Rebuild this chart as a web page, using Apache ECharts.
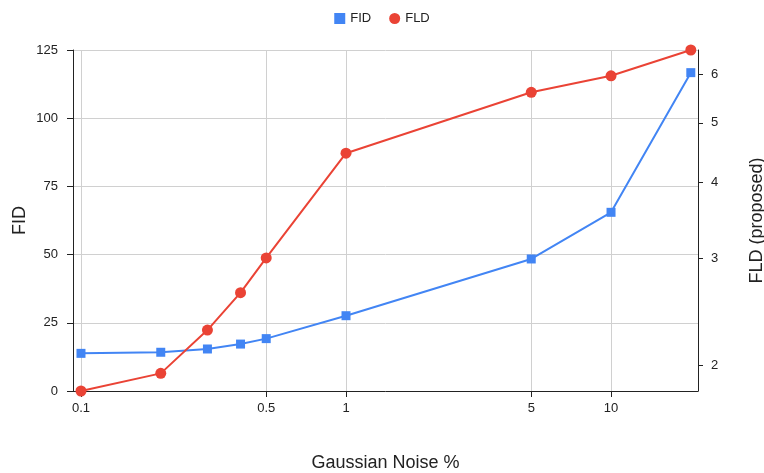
<!DOCTYPE html>
<html><head><meta charset="utf-8">
<script src="https://cdn.jsdelivr.net/npm/echarts@6/dist/echarts.min.js"></script>
<style>html,body{margin:0;padding:0;background:#fff}#c{width:764px;height:473px}</style>
</head><body><div id="c"></div>
<script>
var noise = [0.1, 0.2, 0.3, 0.4, 0.5, 1, 5, 10, 20];
var fid = [13.8, 14.2, 15.4, 17.2, 19.2, 27.6, 48.4, 65.5, 116.7];
var fld = [1.818, 1.943, 2.288, 2.634, 3.003, 4.458, 5.61, 5.97, 6.58];
var xTicks = [0.1, 0.5, 1, 5, 10];
var fidTicks = [0, 25, 50, 75, 100, 125];
var fldTicks = [2, 3, 4, 5, 6];

var font = 'Arial, "Liberation Sans", sans-serif';
function pairs(xs, ys){ return xs.map(function(x,i){ return [x, ys[i]]; }); }

var chart = echarts.init(document.getElementById('c'));
chart.setOption({
  animation: false,
  textStyle: {fontFamily: font},
  legend: {
    top: 7, left: 'center', itemGap: 18, itemWidth: 11, itemHeight: 11,
    textStyle: {fontSize: 13, color: '#222', fontFamily: font},
    data: [{name: 'FID', icon: 'rect'}, {name: 'FLD', icon: 'circle'}]
  },
  grid: {left: 73, right: 66, top: 50, bottom: 82, containLabel: false, outerBoundsMode: 'none'},
  xAxis: {
    type: 'log', logBase: 10, min: 0.0933, max: 21.29,
    name: 'Gaussian Noise %', nameLocation: 'middle', nameGap: 63,
    nameTextStyle: {fontSize: 18, color: '#222', fontFamily: font},
    axisLine: {onZero: false, lineStyle: {color: '#222', width: 1}},
    axisTick: {show: true, length: 6, customValues: xTicks, lineStyle: {color: '#222'}},
    axisLabel: {customValues: xTicks, fontSize: 13, color: '#222', margin: 11, fontFamily: font,
      formatter: function(v){ return String(v); }},
    splitLine: {show: true, lineStyle: {color: '#d0d0d0', width: 1}},
    minorTick: {show: false}
  },
  yAxis: [{
    type: 'value', min: 0, max: 125, interval: 25, position: 'left',
    name: 'FID', nameLocation: 'middle', nameGap: 44, nameRotate: 90, nameMoveOverlap: false,
    nameTextStyle: {fontSize: 18, color: '#222', fontFamily: font},
    axisLine: {show: true, lineStyle: {color: '#222', width: 1}},
    axisTick: {show: true, length: 6, lineStyle: {color: '#222'}},
    axisLabel: {fontSize: 13, color: '#222', margin: 15, fontFamily: font},
    splitLine: {show: true, lineStyle: {color: '#d0d0d0', width: 1}}
  }, {
    type: 'log', logBase: 10, min: 1.818, max: 6.58, position: 'right',
    name: 'FLD (proposed)', nameLocation: 'middle', nameGap: 50, nameRotate: 90,
    nameTextStyle: {fontSize: 18, color: '#222', fontFamily: font},
    axisLine: {show: true, lineStyle: {color: '#222', width: 1}},
    axisTick: {show: true, length: 5, customValues: fldTicks, lineStyle: {color: '#222'}},
    axisLabel: {customValues: fldTicks, fontSize: 13, color: '#222', margin: 13, fontFamily: font,
      formatter: function(v){ return String(Math.round(v)); }},
    splitLine: {show: false}
  }],
  series: [{
    name: 'FID', type: 'line', yAxisIndex: 0, data: pairs(noise, fid),
    symbol: 'rect', symbolSize: 9, clip: false,
    lineStyle: {width: 2, color: '#4285F4'}, itemStyle: {color: '#4285F4'}
  }, {
    name: 'FLD', type: 'line', yAxisIndex: 1, data: pairs(noise, fld),
    symbol: 'circle', symbolSize: 11, clip: false,
    lineStyle: {width: 2, color: '#EA4335'}, itemStyle: {color: '#EA4335'}
  }]
});
</script>
</body></html>
